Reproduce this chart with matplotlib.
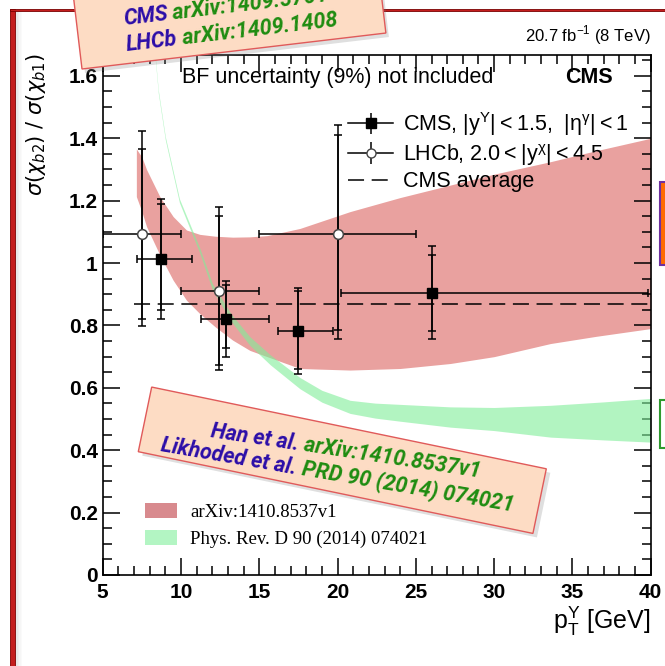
import numpy as np
import matplotlib
matplotlib.use("Agg")
import matplotlib.pyplot as plt
from matplotlib.patches import Polygon, Patch, Rectangle
from matplotlib.ticker import MultipleLocator, FuncFormatter

# ---- measured ratio sigma(chi_b2)/sigma(chi_b1) ----
cms_pt = [8.7, 12.9, 17.5, 26.0]
cms_pt_lo = [7.2, 11.3, 16.2, 20.2]
cms_pt_hi = [10.7, 15.6, 19.7, 39.8]
cms_ratio = [1.014, 0.820, 0.783, 0.903]
cms_tot_up = [1.205, 0.942, 0.921, 1.055]
cms_tot_dn = [0.822, 0.700, 0.644, 0.755]
cms_stat_up = [1.189, 0.930, 0.911, 1.026]
cms_stat_dn = [0.851, 0.727, 0.661, 0.783]

lhcb_pt = [7.5, 12.4, 20.0]
lhcb_pt_lo = [5.0, 10.0, 15.0]
lhcb_pt_hi = [10.0, 15.0, 25.0]
lhcb_ratio = [1.093, 0.911, 1.093]
lhcb_tot_up = [1.424, 1.180, 1.441]
lhcb_tot_dn = [0.799, 0.657, 0.755]
lhcb_stat_up = [1.365, 1.151, 1.411]
lhcb_stat_dn = [0.822, 0.673, 0.785]

cms_average = 0.868
average_pt = [7.0, 40.0]

# ---- theory bands ----
han_pt = [7.15, 7.5, 7.8, 8.65, 9.5, 10.35, 11.2, 12.2, 13.3, 14.4, 15.5,
          17.6, 20.8, 24.0, 27.2, 30.0, 33.6, 36.5, 40.0]
han_hi = [1.366, 1.34, 1.30, 1.213, 1.149, 1.106, 1.092, 1.086, 1.083, 1.084,
          1.088, 1.111, 1.165, 1.21, 1.25, 1.285, 1.325, 1.36, 1.40]
han_lo = [1.213, 1.165, 1.117, 1.026, 0.945, 0.881, 0.838, 0.795, 0.753, 0.72,
          0.70, 0.662, 0.657, 0.662, 0.678, 0.70, 0.742, 0.765, 0.79]

lik_pt = [8.2, 8.55, 9.0, 9.9, 11.2, 12.0, 13.2, 14.4, 15.7, 17.6, 19.0,
          20.8, 22.4, 24.0, 27.2, 30.0, 33.6, 37.0, 40.0]
lik_lo = [1.74, 1.545, 1.395, 1.194, 1.032, 0.915, 0.813, 0.736, 0.674, 0.597,
          0.554, 0.518, 0.503, 0.493, 0.474, 0.463, 0.442, 0.433, 0.426]
lik_hi = [1.75, 1.555, 1.405, 1.206, 1.048, 0.935, 0.837, 0.764, 0.706, 0.633,
          0.592, 0.560, 0.551, 0.547, 0.539, 0.537, 0.544, 0.555, 0.566]

x_ticks = [5, 10, 15, 20, 25, 30, 35, 40]
y_ticks = [0, 0.2, 0.4, 0.6, 0.8, 1.0, 1.2, 1.4, 1.6]

SANS = ["Liberation Sans", "DejaVu Sans"]
HAND = ["Roboto", "DejaVu Sans"]
plt.rcParams["font.family"] = SANS
plt.rcParams["mathtext.fontset"] = "dejavusans"

W, H = 665, 666
fig = plt.figure(figsize=(W / 100, H / 100), dpi=100)
fig.patch.set_facecolor("white")

# main frame (pixel box 102.7..650.7 x 55..575)
L, R, T, B = 102.7, 650.7, 55.0, 575.0
ax = fig.add_axes([L / W, 1 - B / H, (R - L) / W, (B - T) / H])
ax.set_xlim(5, 40)
ax.set_ylim(0, 1.667)

RED = "#E9A19F"
GREEN = (127 / 255, 238 / 255, 153 / 255)

ax.fill_between(han_pt, han_lo, han_hi, color=RED, lw=0, zorder=1)
ax.fill_between(lik_pt, lik_lo, lik_hi, color=GREEN, alpha=0.6, lw=0, zorder=2)

ax.plot(average_pt, [cms_average, cms_average], color="black", lw=1.1,
        dashes=(10.5, 5), zorder=3)


def asym(center, lo, hi):
    c = np.asarray(center)
    return [c - np.asarray(lo), np.asarray(hi) - c]


ekw = dict(ecolor="black", elinewidth=1.1, capthick=1.1, capsize=3.2, zorder=4)
# total uncertainties
ax.errorbar(cms_pt, cms_ratio, xerr=asym(cms_pt, cms_pt_lo, cms_pt_hi),
            yerr=asym(cms_ratio, cms_tot_dn, cms_tot_up), fmt="none", **ekw)
ax.errorbar(lhcb_pt, lhcb_ratio, xerr=asym(lhcb_pt, lhcb_pt_lo, lhcb_pt_hi),
            yerr=asym(lhcb_ratio, lhcb_tot_dn, lhcb_tot_up), fmt="none", **ekw)
# statistical uncertainties
ax.errorbar(cms_pt, cms_ratio, yerr=asym(cms_ratio, cms_stat_dn, cms_stat_up),
            fmt="none", **ekw)
ax.errorbar(lhcb_pt, lhcb_ratio, yerr=asym(lhcb_ratio, lhcb_stat_dn, lhcb_stat_up),
            fmt="none", **ekw)
ax.plot(cms_pt, cms_ratio, "s", color="black", ms=7.5, zorder=5)
ax.plot(lhcb_pt, lhcb_ratio, "o", mfc="white", mec="#444444", mew=1.1, ms=7,
        zorder=5)

# axis styling
ax.xaxis.set_minor_locator(MultipleLocator(1))
ax.yaxis.set_minor_locator(MultipleLocator(0.05))
ax.set_xticks(x_ticks)
ax.set_yticks(y_ticks)
ax.yaxis.set_major_formatter(FuncFormatter(lambda v, p: "%g" % round(v, 2)))
ax.tick_params(which="both", direction="in", top=True, right=True, width=1.1,
               colors="black")
ax.tick_params(which="major", length=12)
ax.tick_params(which="minor", length=6.5)
ax.tick_params(axis="y", which="major", pad=3.5)
ax.tick_params(axis="x", which="major", pad=5.5)
for lab in ax.get_xticklabels() + ax.get_yticklabels():
    lab.set_fontsize(15)
    lab.set_fontweight("bold")
for s in ax.spines.values():
    s.set_linewidth(1.2)

ax.set_xlabel(r"$\mathregular{p_{T}^{Υ}}$ [GeV]", fontsize=18, ha="right",
              x=1.0, labelpad=2)
fig.text(36 / W, 1 - 125 / H, r"$\sigma(\chi_{b2})\ /\ \sigma(\chi_{b1})$",
         rotation=90, fontsize=15, ha="center", va="center")

ax.text(0.145, 0.957, "BF uncertainty (9%) not included", transform=ax.transAxes,
        fontsize=15.5, va="center", ha="left")
ax.text(0.93, 0.957, "CMS", transform=ax.transAxes, fontsize=15.5,
        fontweight="bold", va="center", ha="right")
fig.text(R / W, 1 - 35 / H, r"20.7 fb$^{\mathregular{-1}}$ (8 TeV)", fontsize=12,
         ha="right", va="center")

# legends
h_cms = ax.errorbar([np.nan], [np.nan], yerr=[[0.1]], fmt="-s", color="black",
                    ms=7.5, lw=1.1, capsize=0)
h_lhcb = ax.errorbar([np.nan], [np.nan], yerr=[[0.1]], fmt="-o", color="black",
                     mfc="white", mec="#444444", ms=6.5, lw=1.1, capsize=0)
(h_avg,) = ax.plot([], [], color="black", lw=1.1, dashes=(10.5, 5))
leg = ax.legend([h_cms, h_lhcb, h_avg],
                [r"CMS, $\mathregular{|y^{Υ}| < 1.5,\ |η^{γ}| < 1}$",
                 r"LHCb, $\mathregular{2.0 < |y^{χ}| < 4.5}$",
                 "CMS average"],
                loc="upper left",
                bbox_to_anchor=((348 - L) / (R - L), (B - 110) / (B - T)),
                frameon=False, fontsize=15.5, borderpad=0, borderaxespad=0,
                handlelength=2.1, handletextpad=0.45, labelspacing=0.18)
ax.add_artist(leg)

th_handles = [Patch(facecolor="#D88A8E", edgecolor="none"),
              Patch(facecolor="#B3F5C3", edgecolor="none")]
leg2 = ax.legend(th_handles, ["arXiv:1410.8537v1", "Phys. Rev. D 90 (2014) 074021"],
                 loc="upper left",
                 bbox_to_anchor=((145 - L) / (R - L), (B - 503) / (B - T)),
                 frameon=False, prop={"family": ["Liberation Serif", "DejaVu Serif"],
                                      "size": 13.5},
                 borderpad=0, borderaxespad=0, handlelength=1.7, handleheight=0.85,
                 handletextpad=0.7, labelspacing=0.5)

# ---- slide decorations in pixel coordinates ----
ov = fig.add_axes([0, 0, 1, 1], zorder=10)
ov.set_xlim(0, W)
ov.set_ylim(H, 0)
ov.axis("off")
ov.patch.set_alpha(0)

# slide border
for i, a in enumerate([0.18, 0.12, 0.07, 0.04]):
    ov.add_patch(Rectangle((16 + i * 1.5, 12), 1.5, H, color="gray", alpha=a, lw=0))
ov.add_patch(Rectangle((10, 8.5), 5.0, H, facecolor="#C41E1E", edgecolor="#7A0000", lw=0.6))
ov.add_patch(Rectangle((10, 8.5), W, 2.5, facecolor="#C41E1E", edgecolor="#7A0000", lw=0.6))

BLUE_T = "#2B0DA8"
GREEN_T = "#1E8C10"
PEACH = "#FDDCC4"
EDGE = "#E05A5A"
renderer = fig.canvas.get_renderer()


def rot_box(bl, angle_deg, length, height):
    th = np.deg2rad(angle_deg)
    u = np.array([np.cos(th), -np.sin(th)])
    n = np.array([-np.sin(th), -np.cos(th)])
    p0 = np.array(bl)
    return np.array([p0, p0 + length * u, p0 + length * u + height * n, p0 + height * n])


def coloured_line(x, y, parts, angle, size):
    """Write consecutive coloured pieces along one rotated baseline."""
    th = np.deg2rad(angle)
    kw = dict(fontsize=size, fontweight="bold", style="italic", family=HAND,
              ha="left", va="baseline")
    for s, col in parts:
        ov.text(x, y, s, color=col, rotation=angle, rotation_mode="anchor", **kw)
        probe = ov.text(0, 0, s, **kw)
        w = probe.get_window_extent(renderer).width
        probe.remove()
        x += w * np.cos(th)
        y -= w * np.sin(th)


# upper references box
box1 = rot_box((82, 69), 6.75, 306, 95)
ov.add_patch(Polygon(box1 + [3, 4], closed=True, color="gray", alpha=0.25, lw=0))
ov.add_patch(Polygon(box1, closed=True, facecolor=PEACH, edgecolor=EDGE, lw=1))
coloured_line(124, 25, [("CMS", BLUE_T), (" arXiv:1409.5761", GREEN_T)], 6.75, 15.5)
coloured_line(127, 51, [("LHCb", BLUE_T), (" arXiv:1409.1408", GREEN_T)], 6.75, 15.5)

# lower theory box
box2 = rot_box((138.3, 451.7), -11.7, 403, 66)
ov.add_patch(Polygon(box2 + [4, 4], closed=True, color="gray", alpha=0.25, lw=0))
ov.add_patch(Polygon(box2, closed=True, facecolor=PEACH, edgecolor=EDGE, lw=1))
coloured_line(210, 437, [("Han et al.", BLUE_T), (" arXiv:1410.8537v1", GREEN_T)],
              -8.6, 15.5)
coloured_line(160, 451, [("Likhoded et al.", BLUE_T), (" PRD 90 (2014) 074021", GREEN_T)],
              -9.8, 15.5)

# neighbouring slide elements at the right edge
ov.add_patch(Rectangle((660, 182), 12, 83, facecolor="#FF6A00", edgecolor="#7030A0", lw=1.5))
ov.add_patch(Rectangle((660, 400), 12, 48, facecolor="white", edgecolor="#2E9B2E", lw=1.5))

fig.savefig("out.png", dpi=100)
